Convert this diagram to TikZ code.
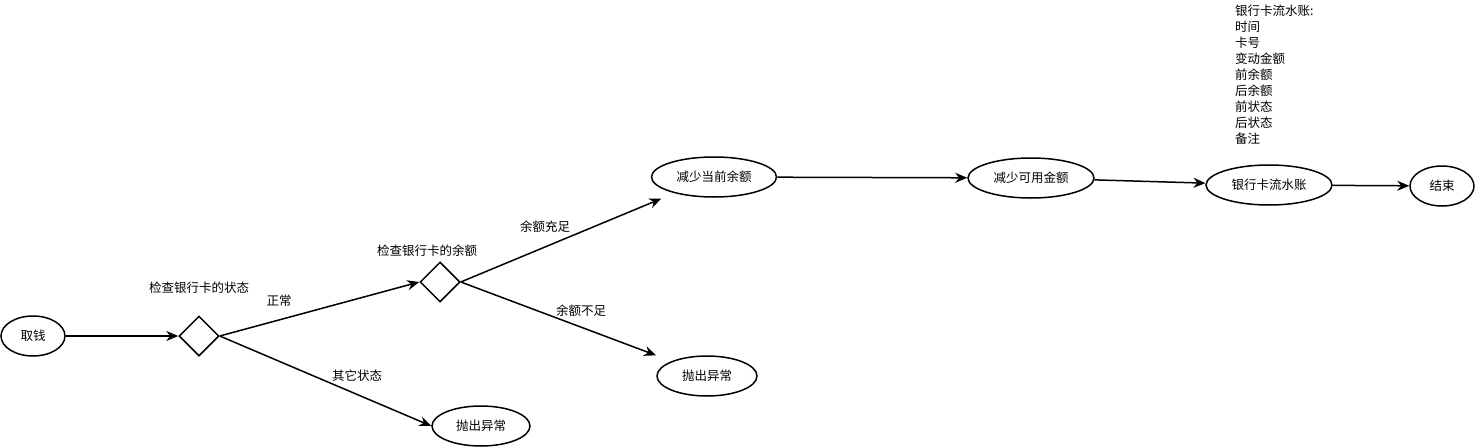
\documentclass[tikz,border=0pt]{standalone}
\usepackage{fontspec}
\setmainfont{Noto Sans CJK SC}
\usepackage{tikz}
\usetikzlibrary{arrows.meta, positioning, shapes.geometric}

\begin{document}
\begin{tikzpicture}[x=1pt,y=-1pt,
    font=\fontsize{12.5}{16}\selectfont,
    state/.style={ellipse,draw,line width=1.5pt,inner sep=0pt,minimum height=40pt},
    choice/.style={diamond,draw,line width=1.5pt,inner sep=0pt,minimum width=40pt,minimum height=40pt},
    flow/.style={-{Stealth[length=12pt,width=10pt]},line width=1.5pt}]
                \useasboundingbox (0,0) rectangle (1476,447);
                
                % States
                \node[state,minimum width=64pt] (take) at (33,336) {取钱};
                \node[state,minimum width=125pt] (curbal) at (714,177) {减少当前余额};
                \node[state,minimum width=126pt] (avail) at (1031,178) {减少可用金额};
                \node[state,minimum width=126pt] (journal) at (1269,185) {银行卡流水账};
                \node[state,minimum width=64pt] (finish) at (1442,186) {结束};
                \node[state,minimum width=100pt] (errA) at (707,376) {抛出异常};
                \node[state,minimum width=98pt] (errB) at (481,426) {抛出异常};
                
                % Decisions
                \node[choice] (chkstate) at (199,336) {};
                \node at (199,288) (chkstatelbl) {检查银行卡的状态};
                \node[choice] (chkbal) at (440,282) {};
                \node at (427,251) (chkballbl) {检查银行卡的余额};
                
                % Journal fields
                \node[anchor=north west,inner sep=0pt,align=left] (fields) at (1235,5)
                    {银行卡流水账:\\时间\\卡号\\变动金额\\前余额\\后余额\\前状态\\后状态\\备注};
                
                % Connections (tips stop short of the ellipses)
                \coordinate (curbalend) at ([xshift=-8pt,yshift=-7pt]curbal.south west);
                \coordinate (errAend) at ([xshift=-15pt,yshift=6pt]errA.north west);
                \draw[flow] (take) -- (chkstate.west);
                \draw[flow] (chkstate.east) -- (chkbal.west);
                \node (oklbl) at (279,301) {正常};
                \draw[flow] (chkstate.east) -- (errB.west);
                \node (otherlbl) at (357,376) {其它状态};
                \draw[flow] (chkbal.east) -- (curbalend);
                \node (enoughlbl) at (545,227) {余额充足};
                \draw[flow] (chkbal.east) -- (errAend);
                \node (shortlbl) at (581,311) {余额不足};
                \draw[flow] (curbal) -- (avail);
                \draw[flow] (avail) -- (journal);
                \draw[flow] (journal) -- (finish);
            \end{tikzpicture}
\end{document}
